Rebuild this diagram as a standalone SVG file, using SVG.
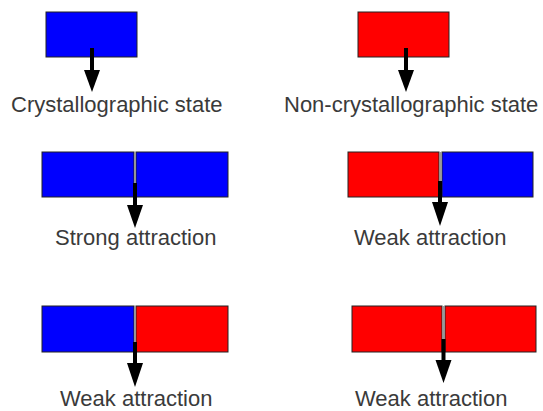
<svg xmlns="http://www.w3.org/2000/svg" width="543" height="411" viewBox="0 0 543 411">
<style>
.b{fill:#0000ff;stroke:#222;stroke-width:1}
.r{fill:#ff0000;stroke:#222;stroke-width:1}
.sep{stroke:#999;stroke-width:1.5}
.shaft{stroke:#000;stroke-width:4}
.head{fill:#000}
text{font-family:"Liberation Sans",Arial,sans-serif;font-size:22px;fill:#3a3a3a}
</style>
<rect width="543" height="411" fill="#fff"/>
<g id="crystallographic">
<rect class="b" x="46" y="12" width="91" height="45"/>
<text x="11" y="112">Crystallographic state</text>
</g>
<g id="non-crystallographic">
<rect class="r" x="358" y="12" width="91" height="45"/>
<text x="284" y="112">Non-crystallographic state</text>
</g>
<g id="strong">
<rect class="b" x="42" y="152" width="92" height="45"/>
<rect class="b" x="136" y="152" width="92" height="45"/>
<line class="sep" x1="135" y1="152" x2="135" y2="197"/>
<text x="55" y="245">Strong attraction</text>
</g>
<g id="weak1">
<rect class="r" x="348" y="152" width="91" height="45"/>
<rect class="b" x="442" y="152" width="91" height="45"/>
<line class="sep" x1="440.5" y1="152" x2="440.5" y2="197"/>
<text x="354" y="245">Weak attraction</text>
</g>
<g id="weak2">
<rect class="b" x="42" y="306" width="92" height="46"/>
<rect class="r" x="136" y="306" width="92" height="46"/>
<line class="sep" x1="135" y1="306" x2="135" y2="352"/>
<text x="60" y="406">Weak attraction</text>
</g>
<g id="weak3">
<rect class="r" x="352" y="306" width="90" height="46"/>
<rect class="r" x="445" y="306" width="91" height="46"/>
<line class="sep" x1="443.5" y1="306" x2="443.5" y2="352"/>
<text x="355" y="406">Weak attraction</text>
</g>
<g id="connectors">
<line class="shaft" x1="92" y1="48" x2="92" y2="72"/>
<polygon class="head" points="84,70 100,70 92,92"/>
<line class="shaft" x1="406" y1="48" x2="406" y2="72"/>
<polygon class="head" points="398,70 414,70 406,92"/>
<line class="shaft" x1="135" y1="183" x2="135" y2="207"/>
<polygon class="head" points="127,205 143,205 135,228"/>
<line class="shaft" x1="440" y1="181" x2="440" y2="204"/>
<polygon class="head" points="432,202 448,202 440,226"/>
<line class="shaft" x1="135" y1="342" x2="135" y2="365"/>
<polygon class="head" points="127,363 143,363 135,387"/>
<line class="shaft" x1="443.5" y1="339" x2="443.5" y2="362"/>
<polygon class="head" points="435.5,360 451.5,360 443.5,383"/>
</g>
</svg>
